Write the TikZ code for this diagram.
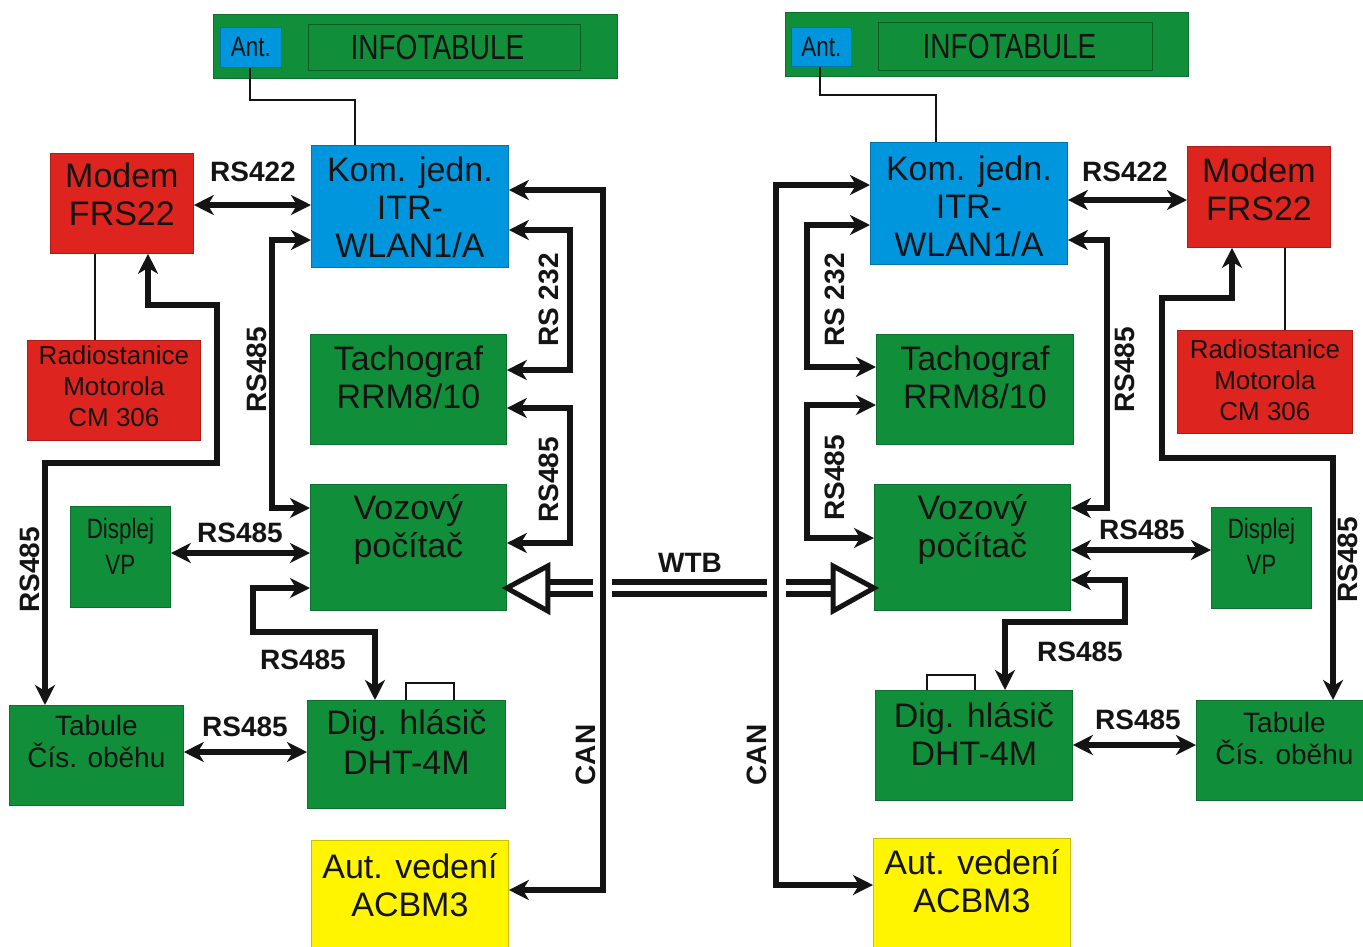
\documentclass[tikz,border=0pt]{standalone}
\usepackage{fontspec}
\setmainfont{Liberation Sans}
\newfontfamily\condfont{Liberation Sans}[FakeStretch=0.8]
\usetikzlibrary{arrows.meta,calc}
\definecolor{bgreen}{RGB}{16,142,58}
\definecolor{bblue}{RGB}{0,150,222}
\definecolor{bred}{RGB}{222,36,30}
\definecolor{byellow}{RGB}{255,245,0}
\definecolor{dgreen}{RGB}{0,95,30}
\begin{document}
\begin{tikzpicture}[x=1pt,y=-1pt,
  box/.style={draw=#1!78!black, line width=0.8pt, fill=#1, inner sep=0pt, anchor=north west},
  txt/.style={align=center, inner sep=0pt, text=black!92},
  big/.style={font=\fontsize{34}{38}\selectfont},
  mid/.style={font=\fontsize{28}{33}\selectfont},
  small/.style={font=\fontsize{26}{31}\selectfont},
  lab/.style={font=\bfseries\fontsize{28}{30}\selectfont, inner sep=0pt, text=black!92},
  con/.style={line width=5.5pt, line join=miter, black!92, -{Stealth[length=20pt,width=20pt,inset=6pt]}},
  dbl/.style={con, {Stealth[length=20pt,width=20pt,inset=6pt]}-{Stealth[length=20pt,width=20pt,inset=6pt]}},
  thinl/.style={line width=2.5pt, black!92},
  shaft/.style={line width=6pt, double distance=6pt, double=white, black!92},
  tri/.style={line width=5pt, fill=white, draw=black!92, line join=miter}
]
\useasboundingbox (0,0) rectangle (1363,946);

% ---------------- LEFT ----------------
\node[box=bgreen, minimum width=404pt, minimum height=64pt] (infoL) at (213,14) {};
\node[box=bblue, minimum width=61pt, minimum height=40pt] (antL) at (220,27) {};
\node[txt, font=\fontsize{28}{30}\selectfont\condfont] (antLt) at (antL.center) {Ant.};
\node[draw=dgreen, line width=1pt, minimum width=272pt, minimum height=46pt, anchor=north west, inner sep=0pt] (infoInL) at (308,24) {};
\node[txt, font=\fontsize{35}{38}\selectfont\condfont] (infoLt) at ($(infoInL.center)+(-7,0)$) {INFOTABULE};

\node[box=bred, minimum width=143pt, minimum height=100pt] (modemL) at (50,153) {};
\node[txt, big] (modemLt) at ($(modemL.center)+(0,-9)$) {Modem\\FRS22};
\node[box=bblue, minimum width=197pt, minimum height=122pt] (komL) at (311,145) {};
\node[txt, big] (komLt) at ($(komL.center)+(0,1)$) {Kom. jedn.\\ITR-\\WLAN1/A};
\node[box=bred, minimum width=173pt, minimum height=100pt] (radioL) at (27,340) {};
\node[txt, small] (radioLt) at ($(radioL.center)+(0,-4)$) {Radiostanice\\Motorola\\CM 306};
\node[box=bgreen, minimum width=196pt, minimum height=110pt] (tachL) at (310,334) {};
\node[txt, big] (tachLt) at ($(tachL.center)+(0,-12)$) {Tachograf\\RRM8/10};
\node[box=bgreen, minimum width=196pt, minimum height=126pt] (vozL) at (310,484) {};
\node[txt, big] (vozLt) at ($(vozL.center)+(0,-18)$) {Vozový\\počítač};
\node[box=bgreen, minimum width=100pt, minimum height=101pt] (dispL) at (70,506) {};
\node[txt, font=\fontsize{28}{36}\selectfont\condfont] (dispLt) at ($(dispL.center)+(0,-11)$) {Displej\\VP};
\node[box=bgreen, minimum width=174pt, minimum height=100pt] (tabL) at (9,705) {};
\node[txt, font=\fontsize{28}{32}\selectfont] (tabLt) at ($(tabL.center)+(0,-14)$) {Tabule\\Čís. oběhu};
\node[draw=black!92, line width=1.5pt, fill=white, minimum width=48pt, minimum height=19pt, anchor=north west, inner sep=0pt] (tabTopL) at (405,682) {};
\node[box=bgreen, minimum width=198pt, minimum height=108pt] (digL) at (307,700) {};
\node[txt, font=\fontsize{34}{40}\selectfont] (digLt) at ($(digL.center)+(0,-12)$) {Dig. hlásič\\DHT-4M};
\node[box=byellow, minimum width=197pt, minimum height=110pt] (autL) at (311,840) {};
\node[txt, big] (autLt) at ($(autL.center)+(0,-10)$) {Aut. vedení\\ACBM3};

% connectors left
\draw[thinl] (antL.south -| 250,0) -- (250,100) -- (355,100) -- (komL.north -| 355,0);
\draw[thinl] (modemL.south -| 95,0) -- (radioL.north -| 95,0);
\draw[dbl] (modemL.east |- 0,205) -- (komL.west |- 0,205);
\draw[dbl] (modemL.south -| 148,0) -- (148,305) -- (217,305) -- (217,463) -- (45,463) -- (tabL.north -| 45,0);
\draw[dbl] (komL.west |- 0,240) -- (272,240) -- (272,508) -- (vozL.west |- 0,508);
\draw[dbl] (komL.east |- 0,230) -- (570,230) -- (570,370) -- (tachL.east |- 0,370);
\draw[dbl] (tachL.east |- 0,408) -- (570,408) -- (570,543) -- (vozL.east |- 0,543);
\draw[dbl] (komL.east |- 0,190) -- (603,190) -- (603,890) -- (autL.east |- 0,890);
\draw[dbl] (dispL.east |- 0,553) -- (vozL.west |- 0,553);
\draw[dbl] (vozL.west |- 0,588) -- (253,588) -- (253,632) -- (375,632) -- (digL.north -| 375,0);
\draw[dbl] (tabL.east |- 0,752) -- (digL.west |- 0,752);

\node[lab] (l1) at (253,172) {RS422};
\node[lab, rotate=90] (l2) at (257,370) {RS485};
\node[lab, rotate=90] (l3) at (549,300) {RS 232};
\node[lab, rotate=90] (l4) at (549,480) {RS485};
\node[lab, rotate=90] (l5) at (586,755) {CAN};
\node[lab] (l6) at (240,533) {RS485};
\node[lab] (l7) at (303,660) {RS485};
\node[lab] (l8) at (245,727) {RS485};
\node[lab, rotate=90] (l9) at (30,570) {RS485};

% ---------------- RIGHT ----------------
\node[box=bgreen, minimum width=403pt, minimum height=64pt] (infoR) at (785,12) {};
\node[box=bblue, minimum width=60pt, minimum height=39pt] (antR) at (791,27) {};
\node[txt, font=\fontsize{28}{30}\selectfont\condfont] (antRt) at (antR.center) {Ant.};
\node[draw=dgreen, line width=1pt, minimum width=274pt, minimum height=48pt, anchor=north west, inner sep=0pt] (infoInR) at (878,22) {};
\node[txt, font=\fontsize{35}{38}\selectfont\condfont] (infoRt) at ($(infoInR.center)+(-6,0)$) {INFOTABULE};

\node[box=bblue, minimum width=197pt, minimum height=122pt] (komR) at (870,142) {};
\node[txt, big] (komRt) at ($(komR.center)+(0,3)$) {Kom. jedn.\\ITR-\\WLAN1/A};
\node[box=bred, minimum width=143pt, minimum height=101pt] (modemR) at (1187,146) {};
\node[txt, big] (modemRt) at ($(modemR.center)+(0,-8)$) {Modem\\FRS22};
\node[box=bred, minimum width=175pt, minimum height=103pt] (radioR) at (1177,330) {};
\node[txt, small] (radioRt) at ($(radioR.center)+(0,-2)$) {Radiostanice\\Motorola\\CM 306};
\node[box=bgreen, minimum width=197pt, minimum height=110pt] (tachR) at (876,334) {};
\node[txt, big] (tachRt) at ($(tachR.center)+(0,-12)$) {Tachograf\\RRM8/10};
\node[box=bgreen, minimum width=196pt, minimum height=126pt] (vozR) at (874,484) {};
\node[txt, big] (vozRt) at ($(vozR.center)+(0,-18)$) {Vozový\\počítač};
\node[box=bgreen, minimum width=100pt, minimum height=101pt] (dispR) at (1211,507) {};
\node[txt, font=\fontsize{28}{36}\selectfont\condfont] (dispRt) at ($(dispR.center)+(0,-12)$) {Displej\\VP};
\node[draw=black!92, line width=1.5pt, fill=white, minimum width=48pt, minimum height=17pt, anchor=north west, inner sep=0pt] (tabTopR) at (926,674) {};
\node[box=bgreen, minimum width=197pt, minimum height=110pt] (digR) at (875,690) {};
\node[txt, font=\fontsize{34}{38}\selectfont] (digRt) at ($(digR.center)+(0,-11)$) {Dig. hlásič\\DHT-4M};
\node[box=bgreen, minimum width=168pt, minimum height=100pt] (tabR) at (1196,700) {};
\node[txt, font=\fontsize{28}{32}\selectfont] (tabRt) at ($(tabR.center)+(4,-12)$) {Tabule\\Čís. oběhu};
\node[box=byellow, minimum width=197pt, minimum height=110pt] (autR) at (873,838) {};
\node[txt, big] (autRt) at ($(autR.center)+(0,-12)$) {Aut. vedení\\ACBM3};

% connectors right
\draw[thinl] (antR.south -| 820,0) -- (820,95) -- (936,95) -- (komR.north -| 936,0);
\draw[thinl] (modemR.south -| 1285,0) -- (radioR.north -| 1285,0);
\draw[dbl] (komR.east |- 0,200) -- (modemR.west |- 0,200);
\draw[dbl] (modemR.south -| 1232,0) -- (1232,298) -- (1162,298) -- (1162,458) -- (1333,458) -- (tabR.north -| 1333,0);
\draw[dbl] (komR.east |- 0,240) -- (1107,240) -- (1107,508) -- (vozR.east |- 0,508);
\draw[dbl] (komR.west |- 0,225) -- (807,225) -- (807,367) -- (tachR.west |- 0,367);
\draw[dbl] (tachR.west |- 0,405) -- (807,405) -- (807,538) -- (vozR.west |- 0,538);
\draw[dbl] (komR.west |- 0,185) -- (776,185) -- (776,885) -- (autR.west |- 0,885);
\draw[dbl] (vozR.east |- 0,550) -- (dispR.west |- 0,550);
\draw[dbl] (vozR.east |- 0,580) -- (1125,580) -- (1125,622) -- (1005,622) -- (digR.north -| 1005,0);
\draw[dbl] (digR.east |- 0,745) -- (tabR.west |- 0,745);

\node[lab] (r1) at (1125,172) {RS422};
\node[lab, rotate=90] (r2) at (1125,370) {RS485};
\node[lab, rotate=90] (r3) at (835,300) {RS 232};
\node[lab, rotate=90] (r4) at (835,478) {RS485};
\node[lab, rotate=90] (r5) at (757,755) {CAN};
\node[lab] (r6) at (1142,530) {RS485};
\node[lab] (r7) at (1080,652) {RS485};
\node[lab] (r8) at (1138,720) {RS485};
\node[lab, rotate=90] (r9) at (1348,560) {RS485};

% ---------------- WTB ----------------
\draw[shaft] ($(vozL.east |- 0,588)+(40,0)$) -- (593,588);
\draw[shaft] (612,588) -- (767,588);
\draw[shaft] (786,588) -- ($(vozR.west |- 0,588)+(-40,0)$);
\draw[tri] (vozL.east |- 0,588) -- ++(41,-22) -- ++(0,45) -- cycle;
\draw[tri] (vozR.west |- 0,588) -- ++(-41,-22) -- ++(0,45) -- cycle;
\node[lab] (wtb) at (690,563) {WTB};
\end{tikzpicture}
\end{document}
